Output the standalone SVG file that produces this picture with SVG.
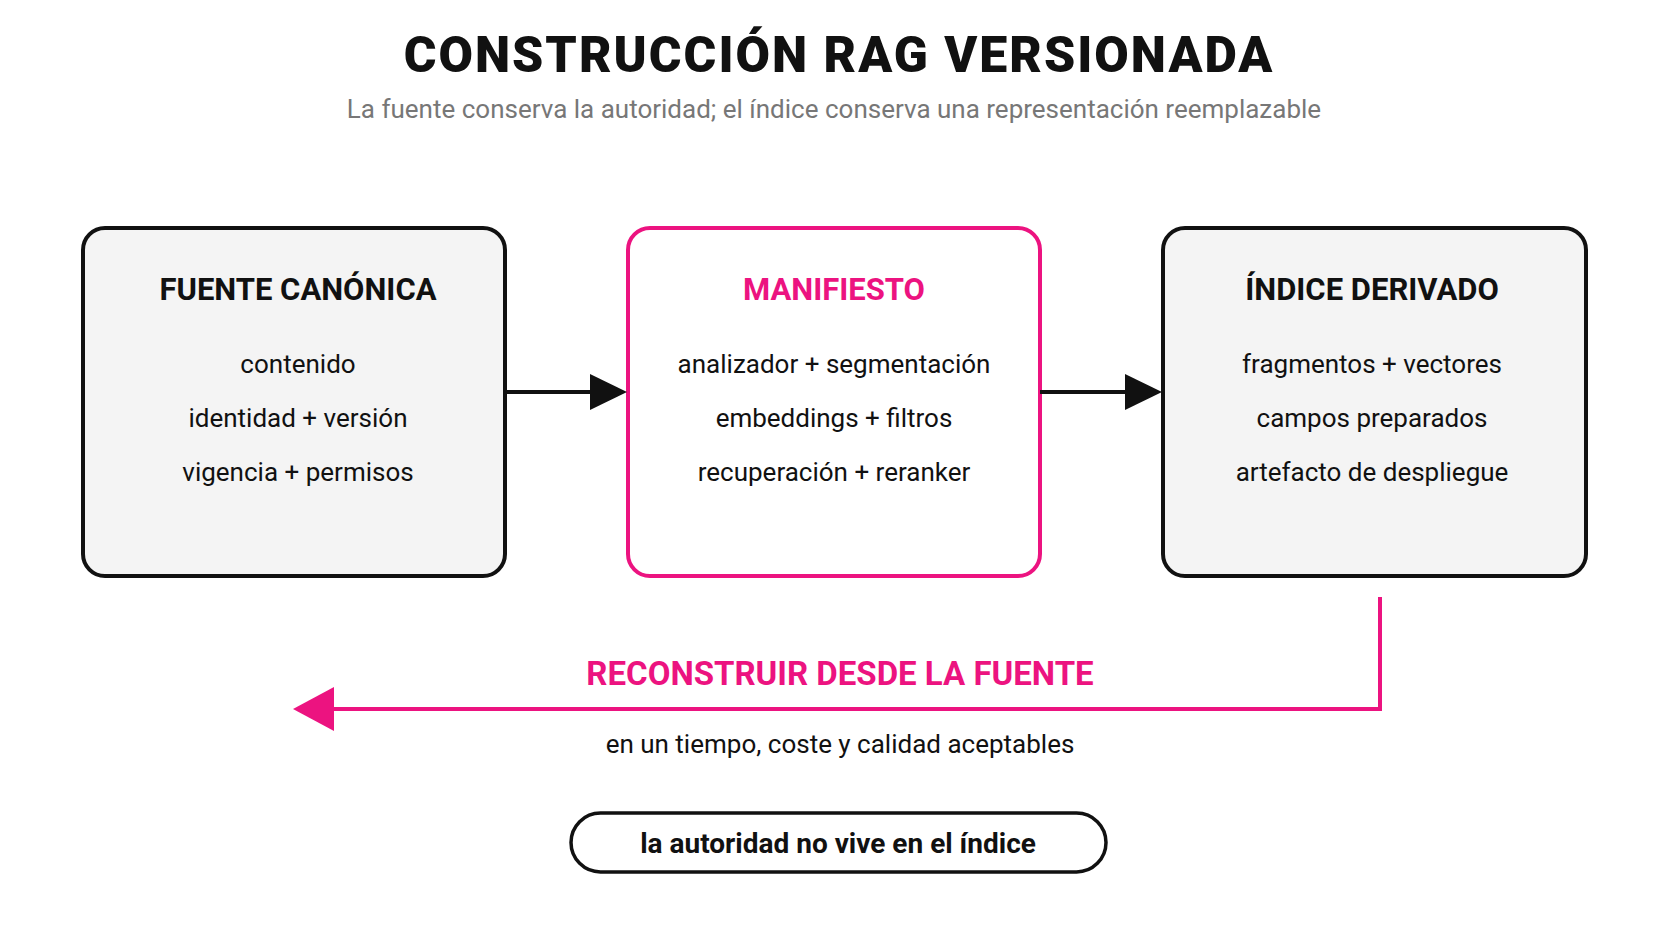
<svg xmlns="http://www.w3.org/2000/svg" width="1672" height="941" viewBox="0 0 1672 941">
<style>
text{font-family:Roboto,"Liberation Sans",sans-serif;text-anchor:middle}
.box{fill:#f4f4f4;stroke:#111;stroke-width:4}
.pbox{fill:#fff;stroke:#ec1380;stroke-width:4}
.h{font-size:31px;font-weight:700;fill:#111}
.l{font-size:26px;fill:#111}
.pink{fill:#ec1380}
</style>
<defs>
<marker id="ab" viewBox="0 0 10 10" refX="10" refY="5" markerWidth="10" markerHeight="10" markerUnits="userSpaceOnUse" orient="auto"><path d="M0,0L10,5L0,10z" fill="#111"/></marker>
</defs>
<rect width="1672" height="941" fill="#fff"/>
<text x="839" y="72" font-size="50" font-weight="900" fill="#111" letter-spacing="2">CONSTRUCCIÓN RAG VERSIONADA</text>
<text x="834" y="118" font-size="26" fill="#777">La fuente conserva la autoridad; el índice conserva una representación reemplazable</text>
<g id="fuente">
<rect class="box" x="83" y="228" width="422" height="348" rx="22"/>
<text class="h" x="298" y="300">FUENTE CANÓNICA</text>
<text class="l" x="298" y="373">contenido</text>
<text class="l" x="298" y="427">identidad + versión</text>
<text class="l" x="298" y="481">vigencia + permisos</text>
</g>
<g id="manifiesto">
<rect class="pbox" x="628" y="228" width="412" height="348" rx="22"/>
<text class="h pink" x="834" y="300">MANIFIESTO</text>
<text class="l" x="834" y="373">analizador + segmentación</text>
<text class="l" x="834" y="427">embeddings + filtros</text>
<text class="l" x="834" y="481">recuperación + reranker</text>
</g>
<g id="indice">
<rect class="box" x="1163" y="228" width="423" height="348" rx="22"/>
<text class="h" x="1372" y="300">ÍNDICE DERIVADO</text>
<text class="l" x="1372" y="373">fragmentos + vectores</text>
<text class="l" x="1372" y="427">campos preparados</text>
<text class="l" x="1372" y="481">artefacto de despliegue</text>
</g>
<g id="connectors">
<line x1="505" y1="392" x2="592" y2="392" stroke="#111" stroke-width="4"/>
<path d="M590,374L627,392L590,410z" fill="#111"/>
<line x1="1040" y1="392" x2="1127" y2="392" stroke="#111" stroke-width="4"/>
<path d="M1125,374L1162,392L1125,410z" fill="#111"/>
<path d="M1380,597V709H330" fill="none" stroke="#ec1380" stroke-width="4"/>
<path d="M334,687L293,709L334,731z" fill="#ec1380"/>
</g>
<text x="840" y="685" font-size="33" font-weight="700" class="pink">RECONSTRUIR DESDE LA FUENTE</text>
<text class="l" x="840" y="753">en un tiempo, coste y calidad aceptables</text>
<g id="nota">
<rect x="571" y="813" width="535" height="59" rx="29.5" fill="#fff" stroke="#111" stroke-width="3.5"/>
<text x="838" y="853" font-size="28" font-weight="700" fill="#111">la autoridad no vive en el índice</text>
</g>
</svg>
